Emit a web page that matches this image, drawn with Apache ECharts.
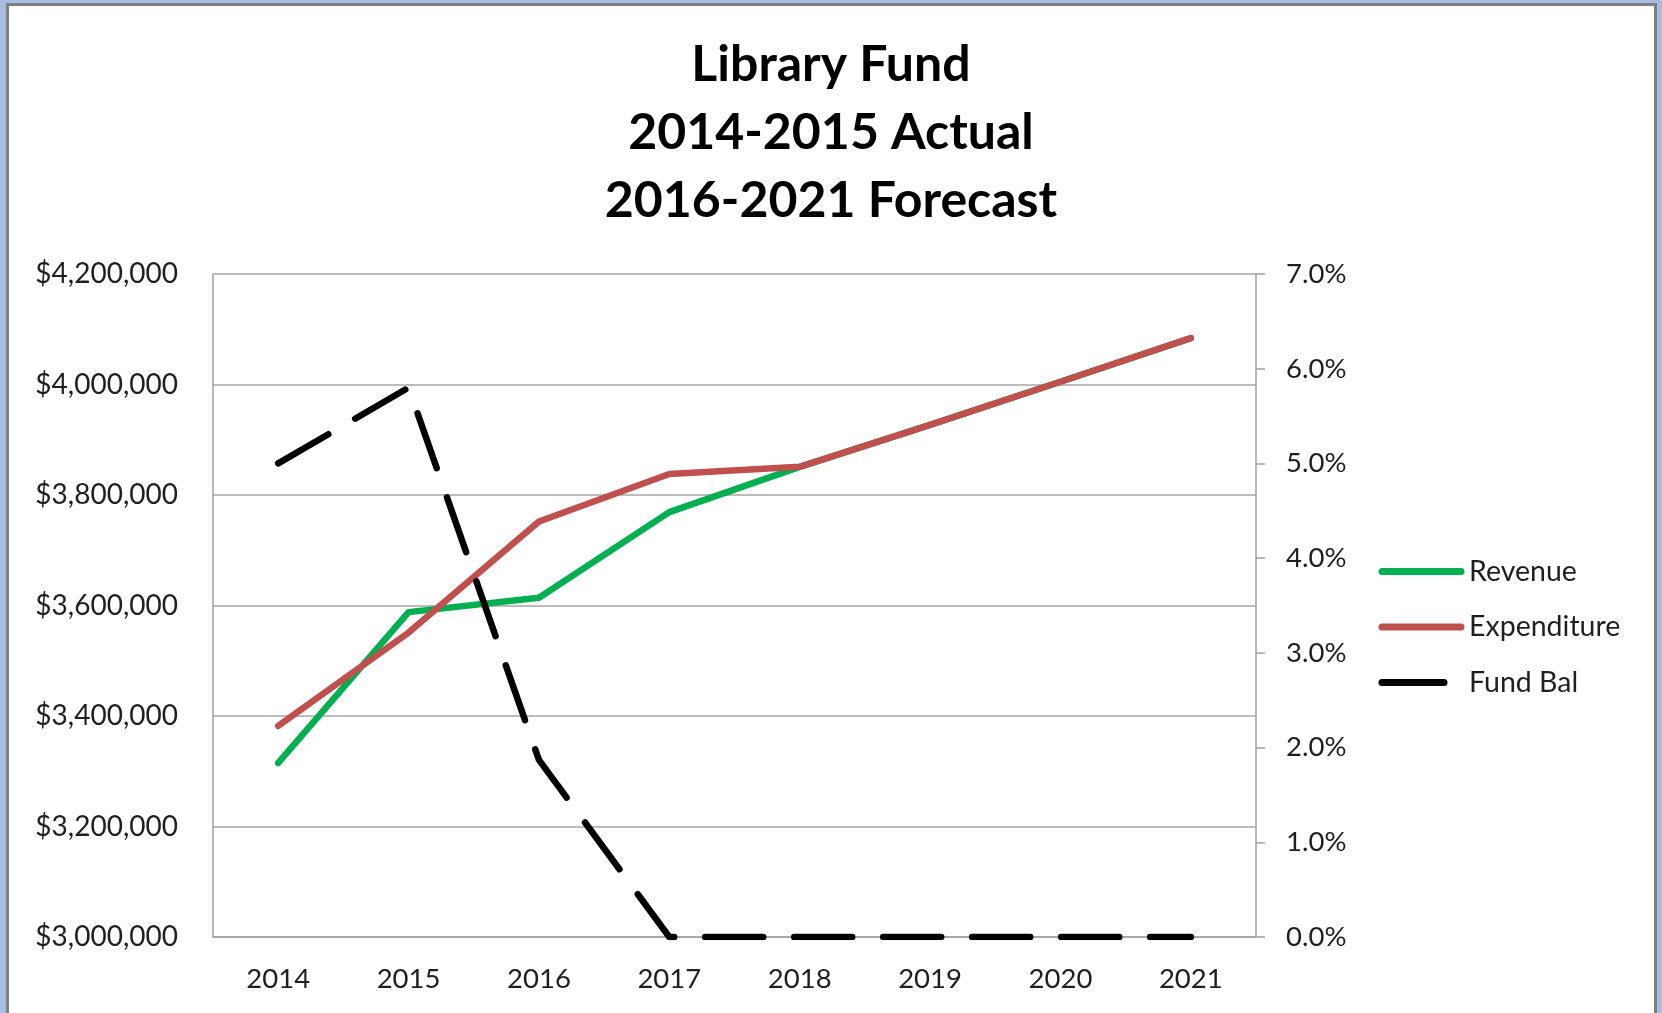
<!DOCTYPE html>
<html>
<head>
<meta charset="utf-8">
<script src="https://cdn.jsdelivr.net/npm/echarts@6/dist/echarts.min.js"></script>
<style>
  html, body { margin: 0; padding: 0; width: 1662px; height: 1013px; overflow: hidden; background: #a7bde5; }
  #frame { position: absolute; left: 6px; top: 3px; width: 1651px; height: 1030px; box-sizing: border-box;
           border: 3px solid #7f7f7f; border-bottom: none; background: #ffffff; }
  #chart { position: absolute; left: 0; top: 0; width: 1662px; height: 1013px; }
</style>
</head>
<body>
<div id="frame"></div>
<div id="chart"></div>
<script>
const titleLines = ['Library Fund', '2014-2015 Actual', '2016-2021 Forecast'];
const years = ['2014', '2015', '2016', '2017', '2018', '2019', '2020', '2021'];
const revenue = [3315000, 3588000, 3614000, 3769000, 3851000, 3927000, 4005000, 4084000];
const expenditure = [3382000, 3551000, 3752000, 3838000, 3851000, 3927000, 4005000, 4084000];
const fundBal = [5.0, 5.8, 1.87, 0, 0, 0, 0, 0];
const leftTicks = [3000000, 4200000, 200000];   // min, max, interval
const rightTicks = [0, 7, 1];                    // min, max, interval (percent)

const FONT = 'Lato';
const TXT = '#1f1f1f';

const chart = echarts.init(document.getElementById('chart'), null, { renderer: 'canvas' });
chart.setOption({
  backgroundColor: 'transparent',
  animation: false,
  title: {
    text: titleLines.join('\n'),
    left: 'center',
    top: 26,
    textStyle: { fontFamily: FONT, fontWeight: 'bold', fontSize: 50, lineHeight: 68, color: '#000' }
  },
  legend: {
    orient: 'vertical',
    left: 1373.5,
    top: 552,
    itemWidth: 79,
    itemHeight: 28,
    itemGap: 26.5,
    selectedMode: false,
    itemStyle: { opacity: 0 },
    textStyle: { fontFamily: FONT, fontSize: 28.5, lineHeight: 28, color: TXT, padding: [0, 0, 0, 3] },
    lineStyle: { width: 7, cap: 'round' },
    data: [
      { name: 'Revenue' },
      { name: 'Expenditure' },
      { name: 'Fund Bal', lineStyle: { type: [62, 200], dashOffset: 0, width: 7, cap: 'round' } }
    ]
  },
  grid: { left: 213, right: 406, top: 274, bottom: 76, containLabel: false },
  xAxis: {
    type: 'category',
    data: years,
    boundaryGap: true,
    axisLine: { show: true, lineStyle: { color: '#a0a0a0', width: 1.5 } },
    axisTick: { show: false },
    axisLabel: { fontFamily: FONT, fontSize: 27.5, color: TXT, margin: 28 }
  },
  yAxis: [
    {
      type: 'value',
      min: leftTicks[0], max: leftTicks[1], interval: leftTicks[2],
      position: 'left',
      axisLine: { show: true, lineStyle: { color: '#a0a0a0', width: 1.5 } },
      axisTick: { show: false },
      splitLine: { show: true, lineStyle: { color: '#a6a6a6', width: 1.5 } },
      axisLabel: {
        fontFamily: FONT, fontSize: 28, color: TXT, margin: 35,
        formatter: v => '$' + v.toLocaleString('en-US')
      }
    },
    {
      type: 'value',
      min: rightTicks[0], max: rightTicks[1], interval: rightTicks[2],
      position: 'right',
      axisLine: { show: true, lineStyle: { color: '#a0a0a0', width: 1.5 } },
      axisTick: { show: true, inside: false, length: 9, lineStyle: { color: '#a0a0a0', width: 1.5 } },
      splitLine: { show: false },
      axisLabel: {
        fontFamily: FONT, fontSize: 27.5, color: TXT, margin: 30,
        formatter: v => v.toFixed(1) + '%'
      }
    }
  ],
  series: [
    {
      name: 'Revenue', type: 'line', yAxisIndex: 0, data: revenue,
      symbol: 'none', color: '#00b050',
      lineStyle: { color: '#00b050', width: 6.5, cap: 'round', join: 'round' }
    },
    {
      name: 'Expenditure', type: 'line', yAxisIndex: 0, data: expenditure,
      symbol: 'none', color: '#c0504d',
      lineStyle: { color: '#c0504d', width: 6.5, cap: 'round', join: 'round' }
    },
    {
      name: 'Fund Bal', type: 'line', yAxisIndex: 1, data: fundBal,
      symbol: 'none', color: '#000000',
      lineStyle: { color: '#000000', width: 6.5, type: [58, 31], cap: 'round', join: 'round' }
    }
  ]
});
</script>
</body>
</html>
